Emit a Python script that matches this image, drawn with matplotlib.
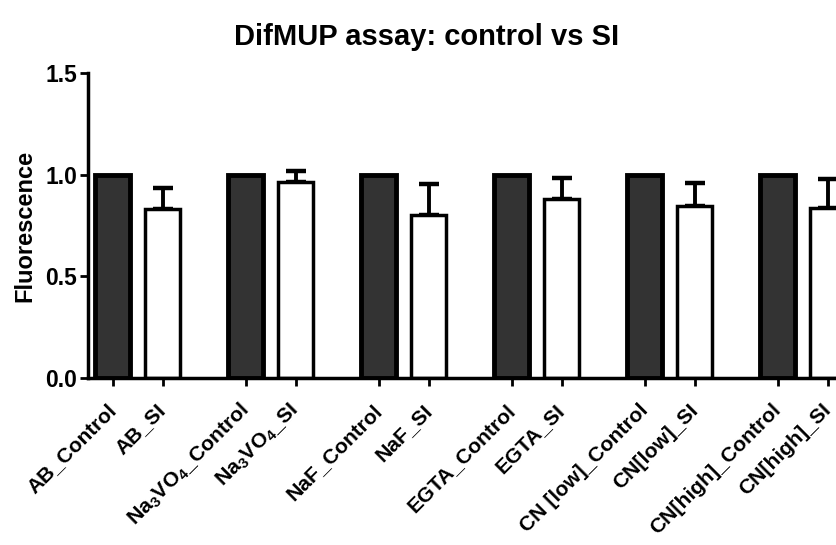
import matplotlib
matplotlib.use("Agg")
import matplotlib.pyplot as plt
import numpy as np

plt.rcParams['font.family'] = ['Liberation Sans', 'DejaVu Sans']
plt.rcParams['font.weight'] = 'bold'
plt.rcParams['mathtext.fontset'] = 'custom'
plt.rcParams['mathtext.bf'] = 'Liberation Sans:bold'
plt.rcParams['mathtext.rm'] = 'Liberation Sans:bold'
plt.rcParams['mathtext.it'] = 'Liberation Sans:bold'
plt.rcParams['mathtext.default'] = 'bf'

groups = ["AB", "Na$_3$VO$_4$", "NaF", "EGTA", "CN[low]", "CN[high]"]
control_labels = ["AB_Control", "Na$_3$VO$_4$_Control", "NaF_Control", "EGTA_Control",
                  "CN [low]_Control", "CN[high]_Control"]
si_labels = ["AB_SI", "Na$_3$VO$_4$_SI", "NaF_SI", "EGTA_SI", "CN[low]_SI", "CN[high]_SI"]
control_values = [1.0, 1.0, 1.0, 1.0, 1.0, 1.0]
si_values = [0.831, 0.964, 0.800, 0.880, 0.846, 0.836]
si_errors = [0.104, 0.054, 0.154, 0.104, 0.113, 0.143]

W, H = 837, 545
fig = plt.figure(figsize=(W / 100, H / 100), dpi=100)
unit = 50.0  # px per x-unit
x0px = 113
ax_left, ax_right = 88, 837
ax_bottom, ax_top = 378, 73
ax = fig.add_axes([ax_left / W, 1 - ax_bottom / H, (ax_right - ax_left) / W, (ax_bottom - ax_top) / H])

n = len(groups)
gstep = 133.0 / unit
xc = np.arange(n) * gstep
xs = xc + 1.0
bw = 0.7

ax.bar(xc, control_values, width=bw, color='#333333', edgecolor='black', linewidth=3.5, zorder=2)
ax.errorbar(xs, si_values, yerr=[np.zeros(n), si_errors], fmt='none', ecolor='black',
            elinewidth=2.8, capsize=7, capthick=3.2, zorder=1)
ax.bar(xs, si_values, width=bw, color='white', edgecolor='black', linewidth=2.5, zorder=2)

ax.set_xlim(-0.5, (ax_right - x0px) / unit)
ax.set_ylim(0, 1.5)
ax.set_yticks([0.0, 0.5, 1.0, 1.5])
ax.set_yticklabels(["0.0", "0.5", "1.0", "1.5"], fontsize=16.5, fontweight='bold')
ticks = []
labels = []
for i in range(n):
    ticks += [xc[i], xs[i]]
    labels += [control_labels[i], si_labels[i]]
ax.set_xticks(ticks)
ax.set_xticklabels(labels, rotation=45, ha='right', va='center', rotation_mode='anchor',
                   fontsize=15.2, fontweight='bold')
ax.tick_params(axis='both', width=2, length=6, direction='out')
ax.tick_params(axis='x', pad=15)
ax.tick_params(axis='y', pad=2)
for s in ['top', 'right']:
    ax.spines[s].set_visible(False)
for s in ['left', 'bottom']:
    ax.spines[s].set_linewidth(2.5)

ax.set_ylabel("Fluorescence", fontsize=17, fontweight='bold', labelpad=6)
fig.text(427 / W, 1 - 37 / H, "DifMUP assay: control vs SI", ha='center', va='center',
         fontsize=21, fontweight='bold')

fig.savefig("out.png", dpi=100)
